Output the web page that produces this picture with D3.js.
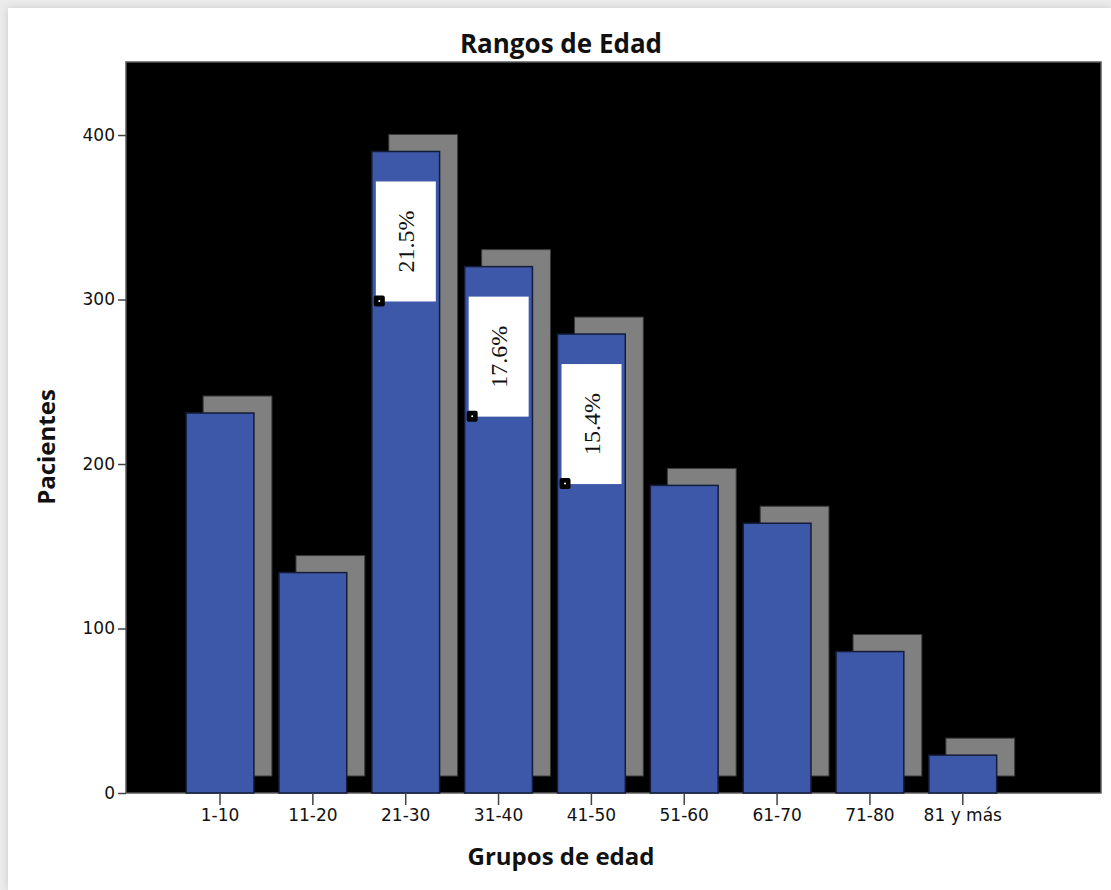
<!DOCTYPE html>
<html lang="es">
<head>
<meta charset="UTF-8">
<title>Rangos de Edad</title>
<script src="https://d3js.org/d3.v7.min.js"></script>
<style>
    body { margin: 0; background: #ececec; }
    #panel {
        position: absolute; left: 8px; top: 8px; width: 1103px; height: 882px;
        background: #fff; box-shadow: 0 0 8px rgba(0,0,0,0.15);
    }
    svg { position: absolute; left: 0; top: 0; }
</style>
</head>
<body>
<div id="panel"></div>
<div id="chart"></div>
<script>
    // data
    const groups = ["1-10", "11-20", "21-30", "31-40", "41-50", "51-60", "61-70", "71-80", "81 y más"];
    const patients = [231, 134, 390, 320, 279, 187, 164, 86, 23];
    const labelled = ["21-30", "31-40", "41-50"];
    const yTicks = [0, 100, 200, 300, 400];

    const width = 1111, height = 890;
    const plotLeft = 126, plotRight = 1101, plotTop = 62, plotBottom = 793;
    const depth = 17;
    const total = d3.sum(patients);
    const data = groups.map((g, i) => ({ group: g, value: patients[i] }));

    const x = d3.scaleBand()
        .domain(groups)
        .range([173.6, 1009.2])
        .paddingInner(0.27)
        .paddingOuter(0.135);

    const y = d3.scaleLinear()
        .domain([0, 444.4])
        .range([plotBottom, plotTop]);

    const svg = d3.select("#chart").append("svg")
        .attr("width", width)
        .attr("height", height)
        .attr("viewBox", [0, 0, width, height]);

    svg.append("rect")
        .attr("x", plotLeft).attr("y", plotTop)
        .attr("width", plotRight - plotLeft).attr("height", plotBottom - plotTop)
        .attr("fill", "#000")
        .attr("stroke", "#5a5a5a").attr("stroke-width", 1.5);

    // 3D shadow behind each bar
    svg.append("g")
        .selectAll("rect")
        .data(data)
        .join("rect")
        .attr("x", d => x(d.group) + depth)
        .attr("y", d => y(d.value) - depth)
        .attr("width", x.bandwidth() + 1)
        .attr("height", d => y(0) - y(d.value))
        .attr("fill", "#808080")
        .attr("stroke", "#3a3a3a").attr("stroke-width", 1);

    svg.append("g")
        .selectAll("rect")
        .data(data)
        .join("rect")
        .attr("x", d => x(d.group))
        .attr("y", d => y(d.value))
        .attr("width", x.bandwidth())
        .attr("height", d => y(0) - y(d.value))
        .attr("fill", "#3e58a9")
        .attr("stroke", "#141c38").attr("stroke-width", 1.5);

    // percentage labels
    const lab = svg.append("g")
        .selectAll("g")
        .data(data.filter(d => labelled.includes(d.group)))
        .join("g")
        .attr("transform", d => `translate(${x(d.group) + 4},${y(d.value) + 30})`);

    lab.append("rect")
        .attr("width", 60).attr("height", 120)
        .attr("fill", "#fff");

    lab.append("text")
        .attr("transform", "translate(30,60) rotate(-90)")
        .attr("text-anchor", "middle")
        .attr("dy", "0.35em")
        .attr("font-family", "Liberation Serif, serif")
        .attr("font-size", 24)
        .attr("fill", "#111")
        .text(d => d3.format(".1%")(d.value / total));

    lab.append("rect")
        .attr("x", -2).attr("y", 114)
        .attr("width", 11).attr("height", 11)
        .attr("rx", 2)
        .attr("fill", "#000");
    lab.append("circle")
        .attr("cx", 3.5).attr("cy", 119.5).attr("r", 1)
        .attr("fill", "#fff");

    // axes
    svg.append("g")
        .attr("transform", `translate(${plotLeft},0)`)
        .call(d3.axisLeft(y).tickValues(yTicks).tickSize(8).tickPadding(3))
        .call(g => g.select(".domain").remove())
        .call(g => g.selectAll("line").attr("stroke", "#444").attr("stroke-width", 1.5))
        .call(g => g.selectAll("text")
            .attr("font-family", "DejaVu Sans, sans-serif")
            .attr("font-size", 17)
            .attr("fill", "#111"));

    svg.append("g")
        .attr("transform", `translate(0,${plotBottom})`)
        .call(d3.axisBottom(x).tickSize(12).tickPadding(4))
        .call(g => g.select(".domain").remove())
        .call(g => g.selectAll("line").attr("stroke", "#444").attr("stroke-width", 1.5))
        .call(g => g.selectAll("text")
            .attr("font-family", "DejaVu Sans, sans-serif")
            .attr("font-size", 17)
            .attr("fill", "#111"));

    svg.append("text")
        .attr("x", 561).attr("y", 53)
        .attr("text-anchor", "middle")
        .attr("font-family", "Open Sans, sans-serif")
        .attr("font-weight", "bold")
        .attr("font-size", 26)
        .attr("fill", "#111")
        .text("Rangos de Edad");

    svg.append("text")
        .attr("x", 561).attr("y", 865)
        .attr("text-anchor", "middle")
        .attr("font-family", "Open Sans, sans-serif")
        .attr("font-weight", "bold")
        .attr("font-size", 24)
        .attr("fill", "#111")
        .text("Grupos de edad");

    svg.append("text")
        .attr("transform", "translate(55,447) rotate(-90)")
        .attr("text-anchor", "middle")
        .attr("font-family", "Open Sans, sans-serif")
        .attr("font-weight", "bold")
        .attr("font-size", 24)
        .attr("fill", "#111")
        .text("Pacientes");
</script>
</body>
</html>
